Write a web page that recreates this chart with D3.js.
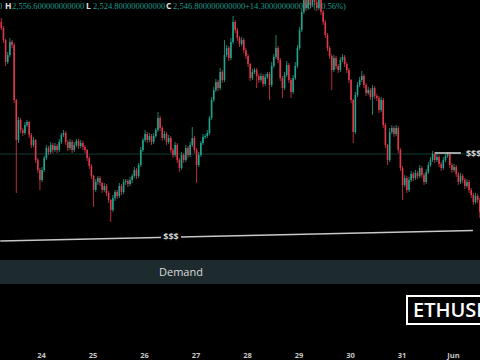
<!DOCTYPE html>
<html><head><meta charset="utf-8">
<script src="https://cdn.jsdelivr.net/npm/d3@7"></script>
<style>html,body{margin:0;padding:0;background:#000;overflow:hidden}</style>
</head><body><svg id="c" width="480" height="360"></svg>
<script>
// ---- data ----
const startTime = "2025-05-23T05:00:00Z"; // first hourly candle
const firstOpen = 2768;
const closes = [
2762,2750,2728,2735,2748,2745,2690,2650,2670,2660,
2657,2665,2668,2655,2645,2650,2630,2620,2610,2620,
2632,2642,2638,2645,2640,2644,2640,2648,2655,2657,
2648,2642,2648,2640,2645,2649,2644,2647,2643,2640,
2632,2624,2614,2600,2608,2612,2607,2600,2604,2597,
2590,2580,2592,2598,2594,2604,2598,2608,2609,2606,
2610,2614,2620,2614,2625,2640,2650,2656,2650,2654,
2648,2654,2660,2672,2662,2652,2656,2648,2652,2640,
2635,2645,2630,2622,2635,2630,2642,2635,2645,2652,
2640,2625,2635,2647,2653,2654,2657,2672,2690,2700,
2708,2702,2718,2710,2735,2742,2732,2748,2768,2760,
2752,2746,2750,2740,2734,2726,2712,2718,2720,2714,
2710,2714,2706,2713,2716,2705,2724,2733,2742,2730,
2712,2702,2715,2725,2710,2698,2712,2724,2742,2760,
2778,2792,2782,2795,2785,2798,2788,2782,2790,2778,
2768,2755,2742,2734,2720,2732,2724,2720,2730,2733,
2726,2720,2710,2690,2658,2695,2705,2710,2714,2705,
2697,2700,2693,2702,2694,2692,2680,2690,2665,2645,
2630,2658,2662,2656,2662,2640,2622,2605,2612,2600,
2610,2616,2612,2617,2614,2622,2615,2608,2618,2625,
2630,2636,2630,2633,2626,2622,2630,2634,2636,2625,
2620,2623,2616,2608,2614,2610,2604,2608,2600,2595,
2588,2594,2590,2578];
const wickUp = [
4,2,1,3,4,2,2,1,3,2, 2,3,2,1,2,3,1,2,2,3, 2,3,2,3,2,3,2,3,2,3, 2,2,3,2,3,2,2,3,2,2,
1,2,2,1,3,2,2,1,3,2, 2,1,3,2,2,3,2,3,2,2, 3,2,3,2,2,3,2,4,2,3, 2,3,2,6,2,2,3,2,3,2,
2,3,2,2,3,2,3,2,3,11, 2,2,3,2,3,2,3,2,3,3, 3,2,4,2,15,3,2,4,6,2, 2,2,3,2,2,2,1,3,2,2,
2,3,2,3,2,2,4,3,13,2, 2,2,3,4,2,2,3,4,3,3, 3,4,2,4,2,7,2,2,3,2, 2,2,2,2,2,3,2,2,3,3,
2,2,2,1,1,3,3,3,5,2, 2,3,2,3,2,2,2,3,2,2, 1,4,3,2,3,2,2,2,3,2, 3,3,2,3,2,3,2,2,3,3,
3,3,2,3,2,2,3,2,2,2, 2,3,2,2,3,2,2,3,2,2, 2,3,2,2];
const wickDn = [
2,3,4,2,2,3,3,53,3,3, 3,2,2,3,3,2,3,3,10,2, 2,2,3,2,3,2,3,2,2,2, 3,3,2,3,2,2,3,2,3,3,
3,3,3,17,2,3,3,3,2,3, 3,12,2,3,3,2,3,2,3,3, 2,3,2,3,2,2,2,2,3,2, 3,2,2,2,3,3,2,3,2,3,
3,2,3,4,2,3,2,3,2,2, 3,18,2,2,2,2,2,2,2,2, 2,3,2,3,2,2,3,2,2,3, 3,3,2,3,3,3,3,2,2,12,
3,2,3,2,2,15,2,2,2,3, 3,10,2,2,3,6,2,2,2,2, 2,2,3,2,3,2,3,3,2,3, 3,3,3,3,20,2,3,3,2,2,
3,3,3,3,11,2,2,2,2,3, 3,2,3,18,3,3,3,2,3,3, 5,2,2,3,2,3,3,15,2,3, 2,2,3,2,3,2,3,3,2,2,
2,2,3,2,3,3,2,2,2,3, 3,2,3,3,2,3,3,2,3,3, 3,2,3,6];
const dayTicks = ["2025-05-24","2025-05-25","2025-05-26","2025-05-27","2025-05-28","2025-05-29","2025-05-30","2025-05-31","2025-06-01"];
const dayLabels = ["24","25","26","27","28","29","30","31","Jun"];
const demandZone = [2506, 2530];
const demandLabel = "Demand";
const lowLiquidity = [{t:"2025-05-23T05:00:00Z", p:2549}, {t:"2025-06-01T09:18:00Z", p:2559.5}];
const highLiquidity = [{t:"2025-05-31T15:36:00Z", p:2637}, {t:"2025-06-01T03:42:00Z", p:2637}];
const liquidityLabel = "$$$";
const priceLine = 2636;
const headerLetters = ["H","L","C"];
const headerValues = ["2,556.600000000000","2,524.800000000000","2,546.800000000000"];
const headerChange = "+14.300000000000 (+0.56%)";
const symbol = "ETHUSD";

// ---- scales ----
const W = 480, H = 360;
const svg = d3.select("#c");
svg.append("rect").attr("width",W).attr("height",H).attr("fill","#000");
const x = d3.scaleUtc().domain([new Date("2025-05-24T00:00:00Z"), new Date("2025-06-01T00:00:00Z")]).range([41,453]);
const y = d3.scaleLinear().domain([2445,2790]).range([345,0]);
const UP = "#1fa58e", DOWN = "#e0394a";

const t0 = new Date(startTime).getTime();
const candles = closes.map((c,i)=>{
  const o = i ? closes[i-1] : firstOpen;
  return {t:new Date(t0+i*3600e3), o, c, h:Math.max(o,c)+wickUp[i], l:Math.min(o,c)-wickDn[i]};
});
const half = 30*60e3;

// demand zone
svg.append("rect").attr("x",0).attr("width",W)
  .attr("y",y(demandZone[1])).attr("height",y(demandZone[0])-y(demandZone[1]))
  .attr("fill","#1d2b2f");
svg.append("text").attr("x",181).attr("y",(y(demandZone[0])+y(demandZone[1]))/2+4)
  .attr("text-anchor","middle").attr("fill","#dcdcdc")
  .style("font","11px 'Open Sans', sans-serif").text(demandLabel);

// faint price line
svg.append("line").attr("x1",0).attr("x2",W).attr("y1",y(priceLine)).attr("y2",y(priceLine))
  .attr("stroke","#0f3c35").attr("stroke-width",1);

// candles
const g = svg.append("g");
const cg = g.selectAll("g.c").data(candles).join("g");
cg.append("line")
  .attr("x1",d=>x(new Date(+d.t+half))).attr("x2",d=>x(new Date(+d.t+half)))
  .attr("y1",d=>y(d.h)).attr("y2",d=>y(d.l))
  .attr("stroke",d=>d.c>=d.o?UP:DOWN).attr("stroke-width",0.8);
cg.append("rect")
  .attr("x",d=>x(new Date(+d.t+half))-0.8).attr("width",1.6)
  .attr("y",d=>y(Math.max(d.o,d.c)))
  .attr("height",d=>Math.max(1,Math.abs(y(d.o)-y(d.c))))
  .attr("fill",d=>d.c>=d.o?UP:DOWN);

// liquidity lines
const lineGen = d3.line().x(d=>x(new Date(d.t))).y(d=>y(d.p));
svg.append("path").attr("d",lineGen(lowLiquidity)).attr("stroke","#c8c8c8").attr("stroke-width",1.6).attr("fill","none");
svg.append("rect").attr("x",161).attr("y",231).attr("width",20).attr("height",11).attr("fill","#000");
svg.append("text").attr("x",171).attr("y",240).attr("text-anchor","middle").attr("fill","#d0d0d0")
  .style("font","bold 9px 'Open Sans', sans-serif").text(liquidityLabel);
svg.append("path").attr("d",lineGen(highLiquidity)).attr("stroke","#c8c8c8").attr("stroke-width",1.6).attr("fill","none");
svg.append("text").attr("x",x(new Date(highLiquidity[1].t))+5).attr("y",y(highLiquidity[1].p)+3.5).attr("fill","#d0d0d0")
  .style("font","bold 9px 'Open Sans', sans-serif").text(liquidityLabel);

// header
const hdr = svg.append("g").style("font-size","8.5px");
hdr.append("text").attr("x",-2).attr("y",9).attr("fill","#1f9c8a").style("font-family","'Liberation Serif', serif").text("0");
const lx = [5,86,166];
headerLetters.forEach((L,i)=>{
  hdr.append("text").attr("x",lx[i]).attr("y",9).attr("fill","#e0e0e0")
    .style("font-family","'Open Sans', sans-serif").style("font-weight","bold").text(L);
  hdr.append("text").attr("x",lx[i]+7).attr("y",9).attr("fill","#1f9c8a")
    .style("font-family","'Liberation Serif', serif").text(headerValues[i]);
});
hdr.append("text").attr("x",245).attr("y",9).attr("fill","#1f9c8a")
  .style("font-family","'Liberation Serif', serif").text(headerChange);

// symbol box
svg.append("rect").attr("x",407).attr("y",296).attr("width",90).attr("height",28)
  .attr("fill","#000").attr("stroke","#fff").attr("stroke-width",2);
svg.append("text").attr("x",413).attr("y",317).attr("fill","#fff")
  .style("font","600 20px 'Open Sans', sans-serif").text(symbol);

// x axis
const ax = svg.append("g").attr("transform","translate(0,350)")
  .call(d3.axisBottom(x).tickValues(dayTicks.map(d=>new Date(d+"T00:00:00Z")))
    .tickFormat((d,i)=>dayLabels[i]).tickSize(0).tickPadding(3));
ax.select(".domain").remove();
ax.selectAll("text").attr("fill","#c8c8c8").style("font","bold 7.5px 'Open Sans', sans-serif");
</script></body></html>
